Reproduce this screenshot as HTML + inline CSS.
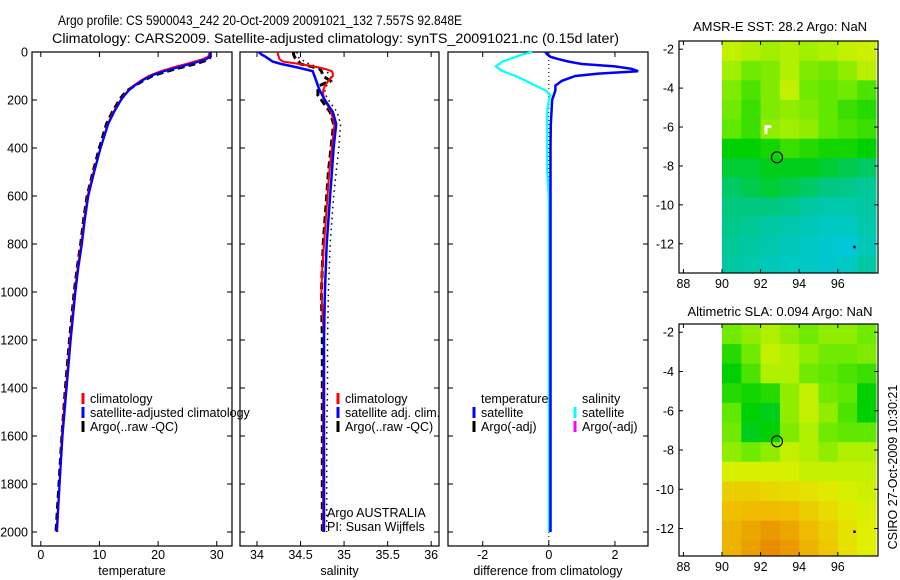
<!DOCTYPE html>
<html><head><meta charset="utf-8"><style>
html,body{margin:0;padding:0;background:#fff;}
svg{display:block;font-family:"Liberation Sans",sans-serif;}
text{font-size:12.5px;fill:#000;}
</style></head><body>
<svg id="fig" width="900" height="580" viewBox="0 0 900 580" xmlns="http://www.w3.org/2000/svg">
<text x="58" y="25" textLength="404" lengthAdjust="spacingAndGlyphs" style="font-size:13.5px">Argo profile: CS 5900043_242 20-Oct-2009 20091021_132 7.557S 92.848E</text>
<text x="52" y="43" textLength="567" lengthAdjust="spacingAndGlyphs" style="font-size:13.5px">Climatology: CARS2009. Satellite-adjusted climatology: synTS_20091021.nc (0.15d later)</text>
<g id="plots"></g>
<text x="780" y="31" text-anchor="middle" style="font-size:13px">AMSR-E SST: 28.2 Argo: NaN</text>
<text x="780" y="316" text-anchor="middle" style="font-size:13px">Altimetric SLA: 0.094 Argo: NaN</text>
<text transform="translate(897,467) rotate(-90)" text-anchor="middle" style="font-size:12.5px">CSIRO 27-Oct-2009 10:30:21</text>
</svg>
<script>
// ---- profile data ----
const depths   = [0,10,20,30,40,50,60,70,80,90,100,120,140,160,180,200,250,300,400,500,600,700,800,900,1000,1200,1400,1600,1800,2000];
const tempSat  = [28.9,28.9,28.8,28.2,27,25.5,24,22.5,21,19.8,18.7,17.2,16,15,14.3,13.7,12.5,11.5,10.2,9.1,8.1,7.5,7.0,6.4,5.9,5.1,4.4,3.7,3.2,2.7];
const tempClim = [28.8,28.7,28.5,27.6,26.2,24.8,23.2,21.8,20.5,19.4,18.4,17.0,15.8,14.9,14.2,13.6,12.4,11.4,10.2,9.0,8.0,7.4,6.9,6.3,5.8,5.0,4.3,3.6,3.2,2.8];
const tempArgo = [28.9,28.9,28.9,28.6,27.6,26.2,24.6,23.0,21.6,20.2,19.0,17.4,16.0,14.8,14.0,13.4,12.2,11.2,10.0,8.9,7.9,7.3,6.8,6.2,5.7,4.9,4.2,3.6,3.1,2.6];
const salSat   = [34.02,34.05,34.1,34.14,34.18,34.28,34.41,34.53,34.64,34.65,34.66,34.68,34.7,34.72,34.75,34.78,34.87,34.91,34.88,34.86,34.84,34.82,34.8,34.79,34.78,34.77,34.77,34.77,34.77,34.77];
const salClim  = [34.24,34.24,34.25,34.26,34.3,34.49,34.65,34.78,34.86,34.87,34.87,34.82,34.78,34.76,34.76,34.78,34.85,34.89,34.86,34.83,34.81,34.79,34.77,34.75,34.74,34.77,34.76,34.76,34.76,34.76];
const salArgo  = [34.42,34.42,34.43,34.45,34.48,34.5,34.62,34.72,34.74,34.75,34.76,34.84,34.72,34.7,34.7,34.74,34.84,34.88,34.85,34.82,34.8,34.78,34.76,34.75,34.74,34.75,34.75,34.75,34.75,34.75];
const salRaw   = [34.46,34.46,34.47,34.5,34.55,34.6,34.68,34.76,34.8,34.82,34.84,34.86,34.8,34.78,34.79,34.82,34.92,34.96,34.94,34.91,34.88,34.86,34.84,34.83,34.82,34.81,34.81,34.8,34.8,34.8];
const dTempSat = [-0.1,-0.05,0.05,0.3,0.6,1.0,2.0,2.5,2.7,1.5,0.8,0.4,0.2,0.2,0.15,0.1,0.08,0.06,0.05,0.05,0.05,0.05,0.05,0.05,0.05,0.05,0.05,0.05,0.05,0.05];
const dSalSat  = [-0.5,-0.8,-1.0,-1.2,-1.4,-1.5,-1.6,-1.5,-1.4,-1.2,-1.0,-0.7,-0.4,-0.1,0.05,0.0,-0.05,-0.05,-0.05,-0.05,0,0,0,0,0,0,0,0,0,0];
const depthTicks = [0,200,400,600,800,1000,1200,1400,1600,1800,2000];
const tempTicks = [0,10,20,30];
const salTicks = [34,34.5,35,35.5,36];
const salTickLabels = ["34","34.5","35","35.5","36"];
const diffTicks = [-2,0,2];
// ---- map data (1-degree cells, lon 90..98, rows from lat -1.6 downward) ----
const mapLons = [90,91,92,93,94,95,96,97];
const mapLatTop = [-1.6,-2.6,-3.6,-4.6,-5.6,-6.6,-7.6,-8.6,-9.6,-10.6,-11.6,-12.6];
const sstVals = [
[.62,.60,.59,.60,.59,.60,.62,.63],[.59,.56,.57,.60,.57,.56,.58,.61],[.57,.54,.57,.62,.56,.55,.56,.54],
[.56,.53,.57,.58,.57,.55,.53,.52],[.55,.53,.58,.59,.58,.55,.54,.53],[.50,.50,.51,.53,.52,.51,.51,.50],
[.48,.48,.49,.49,.49,.48,.47,.46],[.46,.47,.48,.47,.46,.45,.44,.43],[.45,.45,.45,.44,.42,.41,.41,.42],
[.44,.43,.42,.41,.40,.39,.39,.41],[.43,.42,.41,.40,.39,.38,.37,.40],[.42,.41,.40,.39,.39,.38,.39,.42]];
const slaVals = [
[.56,.58,.60,.58,.56,.58,.58,.56],[.52,.56,.62,.60,.58,.56,.56,.57],[.50,.54,.60,.60,.56,.55,.54,.53],
[.52,.51,.52,.58,.62,.56,.55,.50],[.55,.50,.49,.58,.62,.58,.54,.50],[.56,.49,.50,.57,.60,.56,.55,.55],
[.58,.56,.58,.62,.60,.58,.60,.60],[.64,.64,.64,.64,.62,.62,.62,.62],[.70,.70,.69,.68,.67,.66,.64,.63],
[.72,.73,.73,.72,.70,.68,.66,.64],[.74,.76,.78,.76,.73,.70,.67,.65],[.74,.77,.80,.78,.74,.71,.67,.65]];
const argoLon = 92.848, argoLat = -7.557;
const mapXTicks = [88,90,92,94,96];
const mapYTicks = [-2,-4,-6,-8,-10,-12];

const NS="http://www.w3.org/2000/svg";
const root=document.getElementById('plots');
function mk(tag,attrs,parent){const e=document.createElementNS(NS,tag);for(const k in attrs)e.setAttribute(k,attrs[k]);(parent||root).appendChild(e);return e;}
const Y0=52, PXM=0.24;
function yD(d){return Y0+d*PXM;}
const panels=[
 {x0:32,x1:232,vx0:-1.5,vx1:32.6,ticks:tempTicks,labels:tempTicks.map(String),lab:'temperature',name:'temperature-panel'},
 {x0:240,x1:439,vx0:33.805,vx1:36.09,ticks:salTicks,labels:salTickLabels,lab:'salinity',name:'salinity-panel'},
 {x0:448,x1:648,vx0:-3.05,vx1:3.0,ticks:diffTicks,labels:diffTicks.map(String),lab:'difference from climatology',name:'difference-panel'}];
panels.forEach(p=>{p.sx=v=>p.x0+(v-p.vx0)/(p.vx1-p.vx0)*(p.x1-p.x0);});
function line(p,xs,col,w,dash,name){
  const pts=depths.map((d,i)=>p.sx(xs[i]).toFixed(1)+','+yD(d).toFixed(1)).join(' ');
  const e=mk('polyline',{points:pts,fill:'none',stroke:col,'stroke-width':w});
  if(dash)e.setAttribute('stroke-dasharray',dash);
  
  
}
panels.forEach((p,pi)=>{
  const g=mk('rect',{x:p.x0,y:Y0,width:p.x1-p.x0,height:546-Y0,fill:'none',stroke:'#000','stroke-width':1.2});
  
  
  depthTicks.forEach(d=>{
    const y=yD(d);
    mk('line',{x1:p.x0,x2:p.x0+5,y1:y,y2:y,stroke:'#000'});
    mk('line',{x1:p.x1-5,x2:p.x1,y1:y,y2:y,stroke:'#000'});
    if(pi===0){const t=mk('text',{x:28,y:y+4.5,'text-anchor':'end'});t.textContent=d;
      
      }
  });
  p.ticks.forEach((v,i)=>{
    const x=p.sx(v);
    mk('line',{x1:x,x2:x,y1:Y0,y2:Y0+5,stroke:'#000'});
    mk('line',{x1:x,x2:x,y1:541,y2:546,stroke:'#000'});
    const t=mk('text',{x:x,y:559,'text-anchor':'middle'});t.textContent=p.labels[i];
    
    
  });
  const t=mk('text',{x:(p.x0+p.x1)/2,y:575,'text-anchor':'middle'});t.textContent=p.lab;
  
  
});
const [pT,pS,pD]=panels;
line(pT,tempArgo,'#000',3,'7,4','temp-argo-line');
line(pT,tempClim,'#f00',2,null,'temp-climatology-line');
line(pT,tempSat,'#00f',2.2,null,'temp-satellite-line');
line(pS,salRaw,'#000',1.5,'1.5,4','sal-raw-line');
line(pS,salArgo,'#000',3,'7,4','sal-argo-line');
line(pS,salClim,'#f00',2,null,'sal-climatology-line');
line(pS,salSat,'#00f',2.5,null,'sal-satellite-line');
const zl=mk('line',{x1:pD.sx(0),x2:pD.sx(0),y1:Y0,y2:546,stroke:'#000','stroke-dasharray':'1,3'});


line(pD,dSalSat,'#00ffff',2.2,null,'sal-diff-satellite-line');
line(pD,dTempSat,'#0000ff',2.5,null,'temp-diff-satellite-line');

function legend(x,y,col,label,name){
  mk('line',{x1:x,x2:x,y1:y-10,y2:y+1,stroke:col,'stroke-width':3});
  const t=mk('text',{x:x+7,y:y});t.textContent=label;
  
  
}
legend(83,403,'#f00','climatology','legend-climatology');
legend(83,417,'#00f','satellite-adjusted climatology','legend-satellite-adjusted');
legend(83,431,'#000','Argo(..raw -QC)','legend-argo');
legend(338,403,'#f00','climatology','legend-sal-climatology');
legend(338,417,'#00f','satellite adj. clim.','legend-sal-satellite');
legend(338,431,'#000','Argo(..raw -QC)','legend-sal-argo');
let tt=mk('text',{x:481,y:403});tt.textContent='temperature';


tt=mk('text',{x:582,y:403});tt.textContent='salinity';


legend(474,417,'#00f','satellite','legend-temp-satellite');
legend(474,431,'#000','Argo(-adj)','legend-temp-argo');
legend(575,417,'#00ffff','satellite','legend-sal-satellite-diff');
legend(575,431,'#ff00ff','Argo(-adj)','legend-sal-argo-diff');
tt=mk('text',{x:327,y:517});tt.textContent='Argo AUSTRALIA';


tt=mk('text',{x:327,y:531});tt.textContent='PI: Susan Wijffels';



// ---- maps ----
const stops=[[0.35,[0,200,240]],[0.45,[0,200,128]],[0.5,[0,208,0]],[0.55,[96,232,0]],[0.6,[176,240,0]],[0.65,[224,240,0]],[0.72,[240,192,0]],[0.8,[232,140,0]]];
function cmap(v){
  if(v<=stops[0][0])return 'rgb('+stops[0][1]+')';
  for(let i=1;i<stops.length;i++){if(v<=stops[i][0]){const a=stops[i-1],b=stops[i],f=(v-a[0])/(b[0]-a[0]);
    return 'rgb('+a[1].map((c,k)=>Math.round(c+(b[1][k]-c)*f)).join(',')+')';}}
  return 'rgb('+stops[stops.length-1][1]+')';
}
function drawMap(top,bot,vals,name){
  const latTop=-1.58, latBot=-13.5+(name==='sla-map'?0.1:0);
  const sx=lon=>722+(lon-90)*19.3;
  const sy=lat=>top+(latTop-lat)/(latTop-latBot)*(bot-top);
  const g=mk('g',{});
  
  
  vals.forEach((row,r)=>row.forEach((v,c)=>{
    const lat0=mapLatTop[r], lat1=Math.max(lat0-1,latBot);
    const x0=sx(mapLons[c]), x1=Math.min(sx(mapLons[c]+1),876);
    const e=mk('rect',{x:x0,y:sy(lat0),width:x1-x0+0.5,height:sy(lat1)-sy(lat0)+0.5,fill:cmap(v)},g);
    
    
  }));
  mk('rect',{x:679,y:top,width:199,height:bot-top,fill:'none',stroke:'#000','stroke-width':1.2});
  mapXTicks.forEach(l=>{const x=sx(l);mk('line',{x1:x,x2:x,y1:top,y2:top+4,stroke:'#000'});mk('line',{x1:x,x2:x,y1:bot-4,y2:bot,stroke:'#000'});
    const t=mk('text',{x:x,y:bot+15,'text-anchor':'middle'});t.textContent=l;
    
    });
  mapYTicks.forEach(l=>{const y=sy(l);mk('line',{x1:679,x2:683,y1:y,y2:y,stroke:'#000'});mk('line',{x1:874,x2:878,y1:y,y2:y,stroke:'#000'});
    const t=mk('text',{x:674,y:y+4.5,'text-anchor':'end'});t.textContent=l;
    
    });
  const c=mk('circle',{cx:sx(argoLon),cy:sy(argoLat),r:5.5,fill:'none',stroke:'#000','stroke-width':1.2});
  
  
  mk('rect',{x:sx(96.8),y:sy(-12.1),width:2.5,height:2.5,fill:'#000'});
  return {sx,sy};
}
const m1=drawMap(41,273,sstVals,'sst-map');
mk('path',{d:`M${m1.sx(92.2)},${m1.sy(-5.9)}h7v3h-4v6h-3z`,fill:'#fff'});
drawMap(324,556,slaVals,'sla-map');
</script>
</body></html>
